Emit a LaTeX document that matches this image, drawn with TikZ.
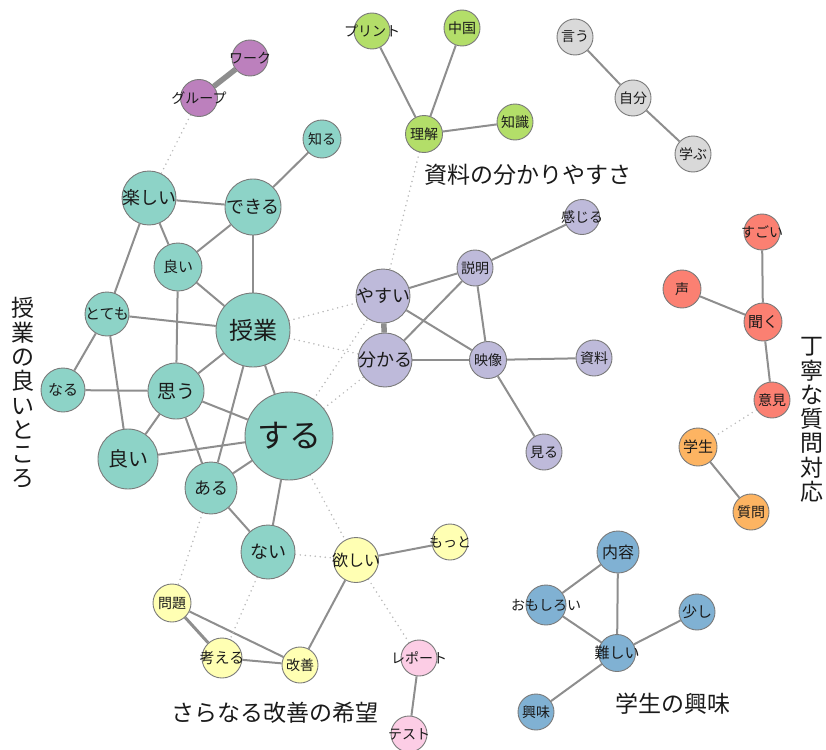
\documentclass[tikz,border=0pt]{standalone}
\usepackage{fontspec}
\setmainfont{Noto Sans CJK JP}
\usetikzlibrary{backgrounds}
\definecolor{cteal}{HTML}{8DD3C7}
\definecolor{clav}{HTML}{BEBADA}
\definecolor{cred}{HTML}{FB8072}
\definecolor{cgreen}{HTML}{B3DE69}
\definecolor{cpurp}{HTML}{BC80BD}
\definecolor{cgray}{HTML}{D9D9D9}
\definecolor{corange}{HTML}{FDB462}
\definecolor{cyellow}{HTML}{FFFFB3}
\definecolor{cpink}{HTML}{FCCDE5}
\definecolor{cblue}{HTML}{80B1D3}
\definecolor{ringc}{HTML}{7A7A7A}
\definecolor{edgec}{HTML}{8E8E8E}
\definecolor{dotc}{HTML}{B8B8B8}
\definecolor{txtc}{HTML}{1A1A1A}
\newcommand\myfs[1]{\fontsize{#1}{#1}\selectfont}
\newcommand\zb[1]{\makebox[0pt][c]{#1}}
\tikzset{
  nd/.style={circle,draw=ringc,line width=0.9pt,inner sep=0pt,text=txtc},
  ed/.style={draw=edgec,line width=2pt},
  thk/.style={draw=edgec,line width=5.5pt},
  mid/.style={draw=edgec,line width=3pt},
  dt/.style={draw=dotc,line width=1.7pt,line cap=round,dash pattern=on 0pt off 5pt},
  grp/.style={text=txtc,font=\myfs{23}},
  vgrp/.style={text=txtc,font=\fontsize{23}{24.3}\selectfont,align=center,inner sep=0pt}
}
\begin{document}
\begin{tikzpicture}[x=1pt,y=-1pt]
\useasboundingbox (0,0) rectangle (826,749);
% purple
\node[nd,fill=cpurp,minimum size=36pt,font=\myfs{14}] (work) at (250,58) {\zb{ワーク}};
\node[nd,fill=cpurp,minimum size=37pt,font=\myfs{14}] (group) at (199,98) {\zb{グループ}};
% green
\node[nd,fill=cgreen,minimum size=36pt,font=\myfs{14}] (print) at (372,31) {\zb{プリント}};
\node[nd,fill=cgreen,minimum size=36pt,font=\myfs{14}] (china) at (462,28) {\zb{中国}};
\node[nd,fill=cgreen,minimum size=37pt,font=\myfs{14}] (rikai) at (424,134) {\zb{理解}};
\node[nd,fill=cgreen,minimum size=36pt,font=\myfs{14}] (chishiki) at (515,122) {\zb{知識}};
% gray
\node[nd,fill=cgray,minimum size=36pt,font=\myfs{14}] (iu) at (575,37) {\zb{言う}};
\node[nd,fill=cgray,minimum size=36pt,font=\myfs{14}] (jibun) at (633,98) {\zb{自分}};
\node[nd,fill=cgray,minimum size=36pt,font=\myfs{14}] (manabu) at (693,154) {\zb{学ぶ}};
% teal
\node[nd,fill=cteal,minimum size=38pt,font=\myfs{14}] (shiru) at (322,139) {\zb{知る}};
\node[nd,fill=cteal,minimum size=54pt,font=\myfs{18}] (tanoshii) at (149,198) {\zb{楽しい}};
\node[nd,fill=cteal,minimum size=56pt,font=\myfs{18}] (dekiru) at (253,207) {\zb{できる}};
\node[nd,fill=cteal,minimum size=48pt,font=\myfs{15}] (yoi1) at (178,267) {\zb{良い}};
\node[nd,fill=cteal,minimum size=44pt,font=\myfs{15}] (totemo) at (107,314) {\zb{とても}};
\node[nd,fill=cteal,minimum size=74pt,font=\myfs{24}] (jugyo) at (253,330) {\zb{授業}};
\node[nd,fill=cteal,minimum size=44pt,font=\myfs{15}] (naru) at (63,390) {\zb{なる}};
\node[nd,fill=cteal,minimum size=56pt,font=\myfs{19}] (omou) at (176,391) {\zb{思う}};
\node[nd,fill=cteal,minimum size=60pt,font=\myfs{20}] (yoi2) at (128,459) {\zb{良い}};
\node[nd,fill=cteal,minimum size=88pt,font=\myfs{32}] (suru) at (289,436) {\zb{する}};
\node[nd,fill=cteal,minimum size=52pt,font=\myfs{17}] (aru) at (211,488) {\zb{ある}};
\node[nd,fill=cteal,minimum size=54pt,font=\myfs{18}] (nai) at (268,552) {\zb{ない}};
% lavender
\node[nd,fill=clav,minimum size=35pt,font=\myfs{14}] (kanjiru) at (582,217) {\zb{感じる}};
\node[nd,fill=clav,minimum size=36pt,font=\myfs{14}] (setsumei) at (475,268) {\zb{説明}};
\node[nd,fill=clav,minimum size=54pt,font=\myfs{18}] (yasui) at (383,296) {\zb{やすい}};
\node[nd,fill=clav,minimum size=54pt,font=\myfs{18}] (wakaru) at (385,360) {\zb{分かる}};
\node[nd,fill=clav,minimum size=37pt,font=\myfs{14}] (eizo) at (488,360) {\zb{映像}};
\node[nd,fill=clav,minimum size=36pt,font=\myfs{14}] (shiryo) at (594,358) {\zb{資料}};
\node[nd,fill=clav,minimum size=36pt,font=\myfs{14}] (miru) at (544,452) {\zb{見る}};
% red
\node[nd,fill=cred,minimum size=36pt,font=\myfs{14}] (sugoi) at (762,232) {\zb{すごい}};
\node[nd,fill=cred,minimum size=38pt,font=\myfs{14}] (koe) at (682,289) {\zb{声}};
\node[nd,fill=cred,minimum size=38pt,font=\myfs{15}] (kiku) at (763,322) {\zb{聞く}};
\node[nd,fill=cred,minimum size=36pt,font=\myfs{14}] (iken) at (772,400) {\zb{意見}};
% orange
\node[nd,fill=corange,minimum size=38pt,font=\myfs{15}] (gakusei) at (698,447) {\zb{学生}};
\node[nd,fill=corange,minimum size=36pt,font=\myfs{14}] (shitsumon) at (751,512) {\zb{質問}};
% yellow
\node[nd,fill=cyellow,minimum size=36pt,font=\myfs{14}] (motto) at (450,542) {\zb{もっと}};
\node[nd,fill=cyellow,minimum size=45pt,font=\myfs{16}] (hoshii) at (356,560) {\zb{欲しい}};
\node[nd,fill=cyellow,minimum size=38pt,font=\myfs{14}] (mondai) at (172,603) {\zb{問題}};
\node[nd,fill=cyellow,minimum size=40pt,font=\myfs{15}] (kangaeru) at (222,658) {\zb{考える}};
\node[nd,fill=cyellow,minimum size=36pt,font=\myfs{14}] (kaizen) at (300,665) {\zb{改善}};
% pink
\node[nd,fill=cpink,minimum size=36pt,font=\myfs{14}] (report) at (419,658) {\zb{レポート}};
\node[nd,fill=cpink,minimum size=36pt,font=\myfs{14}] (test) at (409,734) {\zb{テスト}};
% blue
\node[nd,fill=cblue,minimum size=42pt,font=\myfs{16}] (naiyo) at (618,552) {\zb{内容}};
\node[nd,fill=cblue,minimum size=40pt,font=\myfs{14}] (omoshiroi) at (546,605) {\zb{おもしろい}};
\node[nd,fill=cblue,minimum size=36pt,font=\myfs{15}] (sukoshi) at (697,612) {\zb{少し}};
\node[nd,fill=cblue,minimum size=37pt,font=\myfs{15}] (muzukashii) at (617,653) {\zb{難しい}};
\node[nd,fill=cblue,minimum size=36pt,font=\myfs{14}] (kyomi) at (536,712) {\zb{興味}};
% group labels
\node[grp] (lab1) at (528,175) {資料の分かりやすさ};
\node[grp] (lab2) at (275,713) {さらなる改善の希望};
\node[grp] (lab3) at (673,704) {学生の興味};
\node[vgrp] (lab4) at (23,393) {授\\業\\の\\良\\い\\と\\こ\\ろ};
\node[vgrp] (lab5) at (812,420) {丁\\寧\\な\\質\\問\\対\\応};
\begin{pgfonlayer}{background}
% solid edges
\draw[thk] (work) -- (group);
\draw[ed] (print) -- (rikai);
\draw[ed] (china) -- (rikai);
\draw[ed] (chishiki) -- (rikai);
\draw[ed] (iu) -- (jibun);
\draw[ed] (jibun) -- (manabu);
\draw[ed] (shiru) -- (dekiru);
\draw[ed] (tanoshii) -- (dekiru);
\draw[ed] (tanoshii) -- (yoi1);
\draw[ed] (yoi1) -- (jugyo);
\draw[ed] (dekiru) -- (yoi1);
\draw[ed] (dekiru) -- (jugyo);
\draw[ed] (tanoshii) -- (totemo);
\draw[ed] (totemo) -- (jugyo);
\draw[ed] (totemo) -- (naru);
\draw[ed] (totemo) -- (yoi2);
\draw[ed] (yoi1) -- (omou);
\draw[ed] (naru) -- (omou);
\draw[ed] (omou) -- (jugyo);
\draw[ed] (omou) -- (suru);
\draw[ed] (omou) -- (aru);
\draw[ed] (yoi2) -- (omou);
\draw[ed] (yoi2) -- (suru);
\draw[ed] (jugyo) -- (aru);
\draw[ed] (jugyo) -- (suru);
\draw[ed] (aru) -- (suru);
\draw[ed] (aru) -- (nai);
\draw[ed] (suru) -- (nai);
\draw[thk] (yasui) -- (wakaru);
\draw[ed] (yasui) -- (setsumei);
\draw[ed] (yasui) -- (eizo);
\draw[ed] (wakaru) -- (setsumei);
\draw[ed] (wakaru) -- (eizo);
\draw[ed] (setsumei) -- (eizo);
\draw[ed] (setsumei) -- (kanjiru);
\draw[ed] (eizo) -- (shiryo);
\draw[ed] (eizo) -- (miru);
\draw[ed] (sugoi) -- (kiku);
\draw[ed] (koe) -- (kiku);
\draw[ed] (kiku) -- (iken);
\draw[ed] (gakusei) -- (shitsumon);
\draw[ed] (hoshii) -- (motto);
\draw[ed] (hoshii) -- (kaizen);
\draw[mid] (mondai) -- (kangaeru);
\draw[ed] (mondai) -- (kaizen);
\draw[ed] (kangaeru) -- (kaizen);
\draw[ed] (report) -- (test);
\draw[ed] (naiyo) -- (omoshiroi);
\draw[ed] (naiyo) -- (muzukashii);
\draw[ed] (omoshiroi) -- (muzukashii);
\draw[ed] (sukoshi) -- (muzukashii);
\draw[ed] (muzukashii) -- (kyomi);
% dotted edges
\draw[dt] (group) -- (tanoshii);
\draw[dt] (rikai) -- (yasui);
\draw[dt] (jugyo) -- (yasui);
\draw[dt] (jugyo) -- (wakaru);
\draw[dt] (suru) -- (yasui);
\draw[dt] (suru) -- (wakaru);
\draw[dt] (suru) -- (hoshii);
\draw[dt] (nai) -- (hoshii);
\draw[dt] (aru) -- (mondai);
\draw[dt] (nai) -- (kangaeru);
\draw[dt] (hoshii) -- (report);
\draw[dt] (iken) -- (gakusei);
\end{pgfonlayer}
\end{tikzpicture}
\end{document}
